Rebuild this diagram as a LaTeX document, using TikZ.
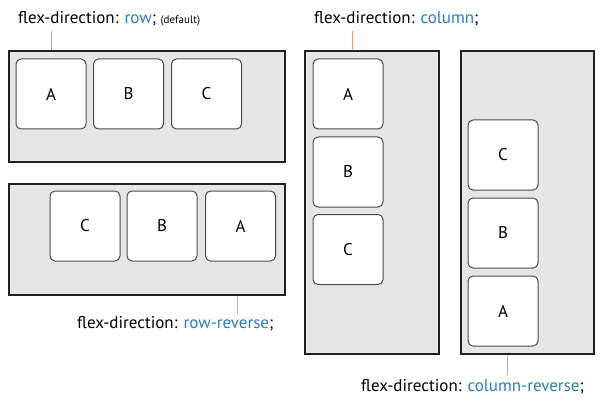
\documentclass[tikz,border=0pt]{standalone}
\usepackage{fontspec}
\setmainfont{PT Sans}
\usetikzlibrary{positioning}
\definecolor{cssblue}{HTML}{2A7BC0}
\definecolor{tickcol}{HTML}{EE9C82}
\definecolor{boxgray}{HTML}{E6E6E7}
\definecolor{edgecol}{HTML}{231F20}
\begin{document}
\begin{tikzpicture}[x=1pt,y=-1pt,
    flexbox/.style={draw=edgecol,line width=2.2pt,fill=boxgray,inner sep=0pt,anchor=north west},
    item/.style={draw=black!70,line width=1pt,fill=white,rounded corners=5pt,
      minimum size=70pt,inner sep=0pt,font=\fontsize{17}{19}\selectfont},
    caption/.style={font=\fontsize{17}{19}\selectfont,inner sep=0pt,anchor=base west},
    tickline/.style={draw=tickcol,line width=1pt}]
  \useasboundingbox (0,0) rectangle (602,409);
  % containers
  \node[flexbox,minimum width=276pt,minimum height=111pt] (row) at (8,50) {};
  \node[flexbox,minimum width=276pt,minimum height=111pt] (rowrev) at (8,183) {};
  \node[flexbox,minimum width=134pt,minimum height=303pt] (col) at (304,50) {};
  \node[flexbox,minimum width=133pt,minimum height=303pt] (colrev) at (460,50) {};
  % row
  \node[item] (rowA) at (51,94) {A};
  \node[item] (rowB) at (128.5,94) {B};
  \node[item] (rowC) at (206.5,94) {C};
  % row-reverse
  \node[item] (rrC) at (85,226) {C};
  \node[item] (rrB) at (162,226) {B};
  \node[item] (rrA) at (240.5,226) {A};
  % column
  \node[item] (colA) at (348,94) {A};
  \node[item] (colB) at (348,172) {B};
  \node[item] (colC) at (348,249.5) {C};
  % column-reverse
  \node[item] (crC) at (503,155) {C};
  \node[item] (crB) at (503,233) {B};
  \node[item] (crA) at (503,311) {A};
  % captions
  \node[caption] (rowcap) at (18,24) {flex-direction: \textcolor{cssblue}{row}; {\fontsize{11}{12}\selectfont(default)}};
  \node[caption] (colcap) at (314,24) {flex-direction: \textcolor{cssblue}{column};};
  \node[caption] (rrcap) at (77,328) {flex-direction: \textcolor{cssblue}{row-reverse};};
  \node[caption] (crcap) at (361,391) {flex-direction: \textcolor{cssblue}{column-reverse};};
  % ticks
  \coordinate (rowtick) at (51,31);
  \coordinate (coltick) at (352,31);
  \coordinate (rrtick) at (237,314);
  \coordinate (crtick) at (507,375);
  \draw[tickline] (rowtick) -- (rowtick |- row.north);
  \draw[tickline] (coltick) -- (coltick |- col.north);
  \draw[tickline] (rrtick) -- (rrtick |- rowrev.south);
  \draw[tickline] (crtick) -- (crtick |- colrev.south);
\end{tikzpicture}
\end{document}
